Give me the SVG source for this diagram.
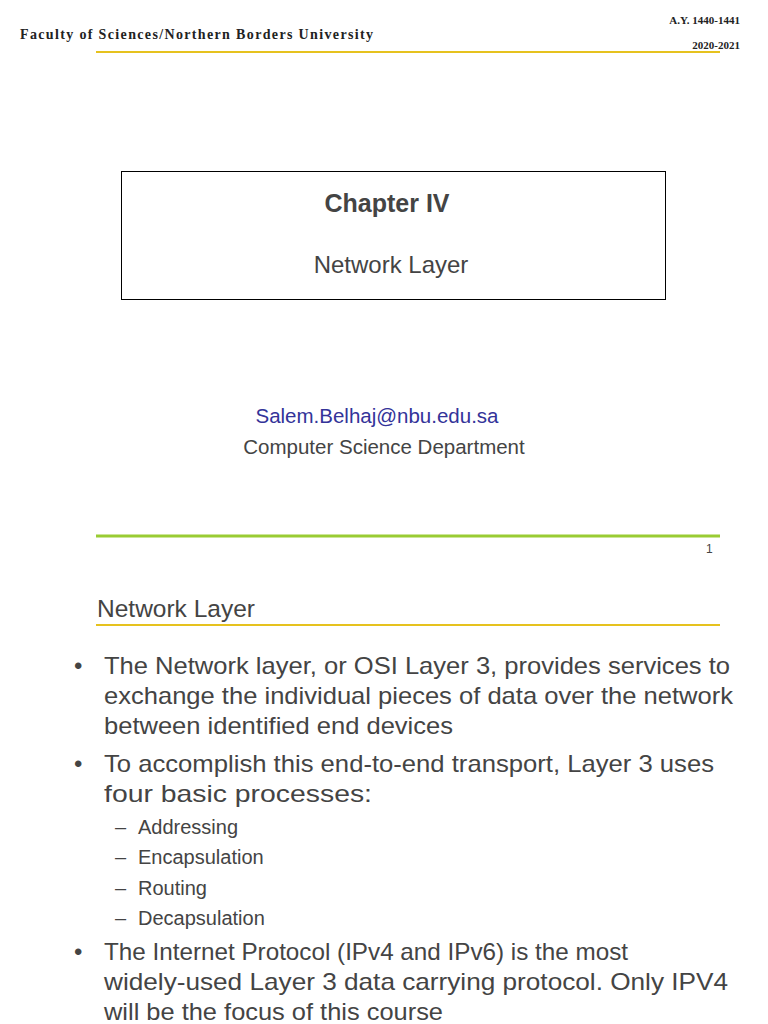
<svg xmlns="http://www.w3.org/2000/svg" width="768" height="1024" viewBox="0 0 768 1024">
<style>
.s{font-family:"Liberation Serif",serif;fill:#222}
.a{font-family:"Liberation Sans",Arial,sans-serif;fill:#444}
.b{font-size:24px}
.d{font-size:20px}
</style>
<rect width="768" height="1024" fill="#fff"/>
<text class="s" x="20" y="39" font-size="14" font-weight="bold" textLength="353" lengthAdjust="spacing">Faculty of Sciences/Northern Borders University</text>
<text class="s" x="740" y="24" font-size="11" font-weight="bold" text-anchor="end">A.Y. 1440-1441</text>
<text class="s" x="740" y="49" font-size="11" font-weight="bold" text-anchor="end">2020-2021</text>
<line x1="96" y1="52" x2="720" y2="52" stroke="#e6c21e" stroke-width="2"/>
<rect x="121.5" y="171.5" width="544" height="128" fill="none" stroke="#000" stroke-width="1"/>
<text class="a" x="387" y="212" font-size="25" font-weight="bold" fill="#555" text-anchor="middle">Chapter IV</text>
<text class="a" x="391" y="273" font-size="24" fill="#555" text-anchor="middle">Network Layer</text>
<text x="377" y="423" font-family="Liberation Sans,sans-serif" font-size="20.5" fill="#333399" text-anchor="middle">Salem.Belhaj@nbu.edu.sa</text>
<text class="a" x="384" y="454" font-size="20.5" fill="#555" text-anchor="middle">Computer Science Department</text>
<line x1="96" y1="536" x2="720" y2="536" stroke="#99cc33" stroke-width="3"/>
<text class="a" x="706" y="553" font-size="12" fill="#222">1</text>
<text class="a" x="97" y="617" font-size="24.5">Network Layer</text>
<line x1="96" y1="625" x2="720" y2="625" stroke="#e6c21e" stroke-width="2"/>
<g class="a b">
<text x="74" y="674">•</text>
<text x="104" y="674" textLength="626" lengthAdjust="spacingAndGlyphs">The Network layer, or OSI Layer 3, provides services to</text>
<text x="104" y="704" textLength="629" lengthAdjust="spacingAndGlyphs">exchange the individual pieces of data over the network</text>
<text x="104" y="734" textLength="349" lengthAdjust="spacingAndGlyphs">between identified end devices</text>
<text x="74" y="772">•</text>
<text x="104" y="772" textLength="610" lengthAdjust="spacingAndGlyphs">To accomplish this end-to-end transport, Layer 3 uses</text>
<text x="104" y="802" textLength="268" lengthAdjust="spacingAndGlyphs">four basic processes:</text>
<text x="74" y="960">•</text>
<text x="104" y="960" textLength="524" lengthAdjust="spacingAndGlyphs">The Internet Protocol (IPv4 and IPv6) is the most</text>
<text x="104" y="990" textLength="624" lengthAdjust="spacingAndGlyphs">widely-used Layer 3 data carrying protocol. Only IPV4</text>
<text x="104" y="1020" textLength="339" lengthAdjust="spacingAndGlyphs">will be the focus of this course</text>
</g>
<g class="a d">
<text x="115" y="834">–</text><text x="138" y="834">Addressing</text>
<text x="115" y="864">–</text><text x="138" y="864">Encapsulation</text>
<text x="115" y="895">–</text><text x="138" y="895">Routing</text>
<text x="115" y="925">–</text><text x="138" y="925">Decapsulation</text>
</g>
</svg>
